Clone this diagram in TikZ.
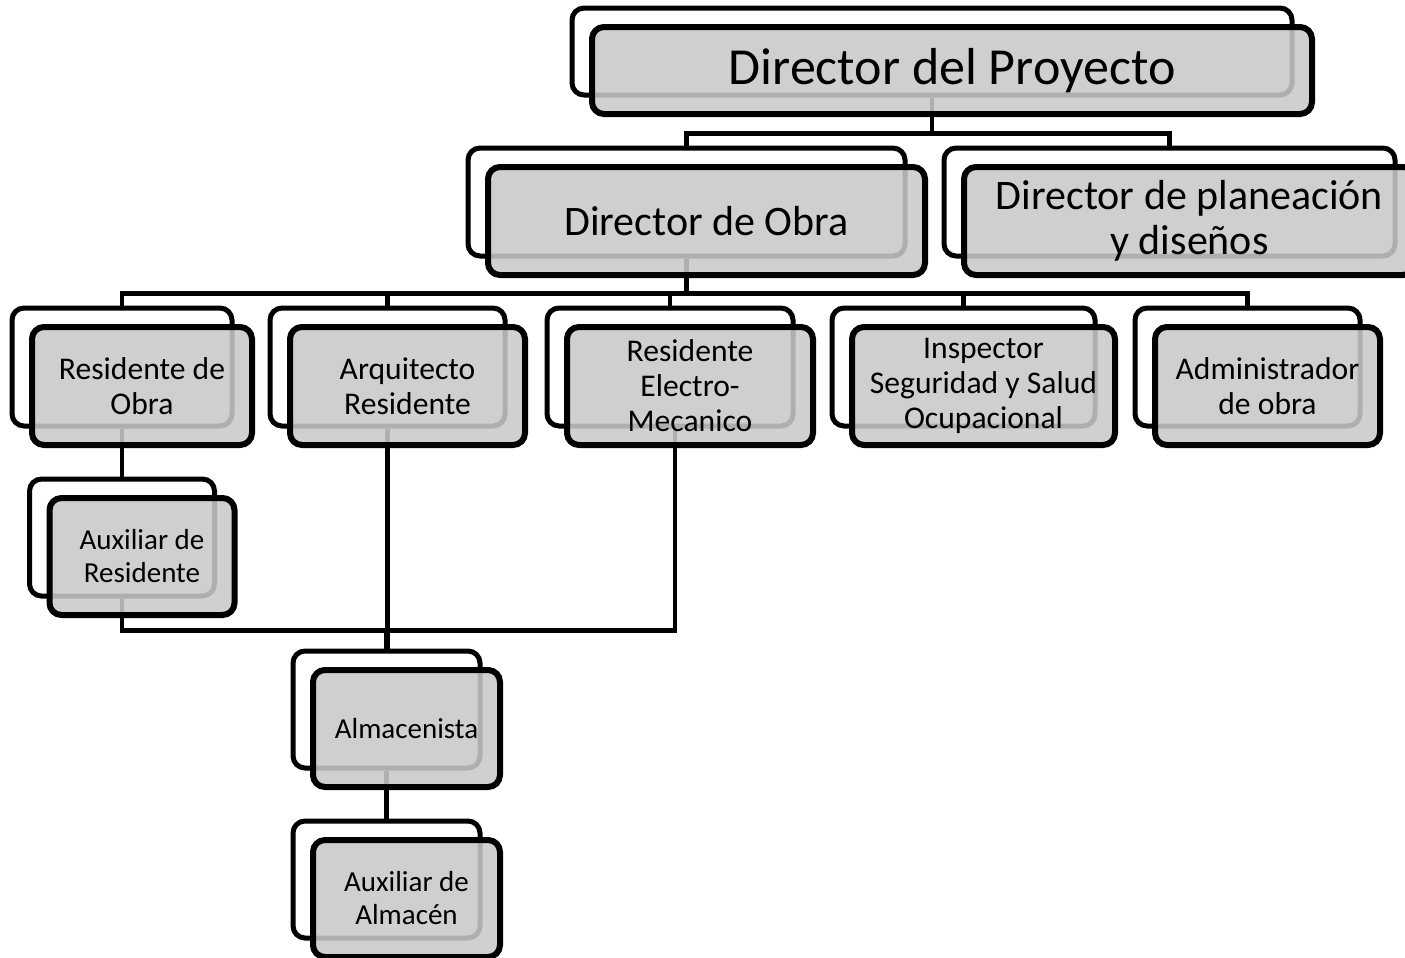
\documentclass[tikz,border=0pt]{standalone}
\usepackage{fontspec}
\setmainfont{Carlito}
\usepackage{tikz}
\pgfdeclarelayer{fondo}
\pgfsetlayers{fondo,main}

\begin{document}
\begin{tikzpicture}[x=0.5pt,y=-0.5pt,
  atras/.style={draw,line width=2.5pt,rounded corners=6pt,fill=white,inner sep=0pt},
  puesto/.style={draw,line width=3pt,rounded corners=6pt,fill=black!21,fill opacity=0.875,text opacity=1,align=center,inner sep=0pt},
  nivel1/.style={font=\fontsize{26}{30}\selectfont,minimum height=43.5pt},
  nivel2/.style={font=\fontsize{21}{22.5}\selectfont,minimum height=54pt},
  nivel3/.style={font=\fontsize{15.8}{17.5}\selectfont,minimum height=59pt},
  nivel4/.style={font=\fontsize{14.5}{16.5}\selectfont,minimum height=58.5pt},
  linea/.style={line width=2.2pt}]
\useasboundingbox (0,0) rectangle (1405,958);

	\node[atras,nivel1,minimum width=360pt] (dpA) at (932,51.5) {};
	\node[puesto,nivel1,minimum width=360pt] (dp) at (952,70.5) {Director del Proyecto};

	\node[atras,nivel2,minimum width=218.5pt] (doA) at (686.5,202) {};
	\node[puesto,nivel2,minimum width=218.5pt] (do) at (706.5,221) {Director de Obra};
	\node[atras,nivel2,minimum width=225.5pt] (dplA) at (1169.5,202) {};
	\node[puesto,nivel2,minimum width=225.5pt] (dpl) at (1189.5,221) {Director de planeación\\y diseños};

	\node[atras,nivel3,minimum width=110pt] (resA) at (122,367) {};
	\node[puesto,nivel3,minimum width=110pt] (res) at (142,386) {Residente de\\Obra};
	\node[atras,nivel3,minimum width=117.5pt] (arqA) at (387.5,367) {};
	\node[puesto,nivel3,minimum width=117.5pt] (arq) at (407.5,386) {Arquitecto\\Residente};
	\node[atras,nivel3,minimum width=123pt] (elecA) at (670,367) {};
	\node[puesto,nivel3,minimum width=123pt] (elec) at (690,386) {Residente\\Electro-\\Mecanico};
	\node[atras,nivel3,minimum width=131.5pt] (inspA) at (963.5,367) {};
	\node[puesto,nivel3,minimum width=131.5pt] (insp) at (983.5,386) {Inspector\\Seguridad y Salud\\Ocupacional};
	\node[atras,nivel3,minimum width=112.5pt] (admA) at (1247.5,367) {};
	\node[puesto,nivel3,minimum width=112.5pt] (adm) at (1267.5,386) {Administrador\\de obra};

	\node[atras,nivel4,minimum width=92.5pt] (auxresA) at (122,537.5) {};
	\node[puesto,nivel4,minimum width=92.5pt] (auxres) at (142,556.5) {Auxiliar de\\Residente};
	\node[atras,nivel4,minimum width=93.5pt] (almA) at (386.5,709.5) {};
	\node[puesto,nivel4,minimum width=93.5pt] (alm) at (406.5,728.5) {Almacenista};
	\node[atras,nivel4,minimum width=93.5pt] (auxalmA) at (386.5,879.5) {};
	\node[puesto,nivel4,minimum width=93.5pt] (auxalm) at (406.5,898.5) {Auxiliar de\\Almacén};

\begin{pgfonlayer}{fondo}
	\draw[linea] (dpA.south) -- ++(0,36) coordinate (b1) -| (doA.north);
	\draw[linea] (b1) -| (dplA.north);
	\draw[linea] (doA.south) -- ++(0,35) coordinate (b2) -| (resA.north);
	\foreach \n in {arqA,elecA,inspA,admA}
		\draw[linea] (b2) -| (\n.north);
	\draw[linea] (resA.south) -- (auxresA.north);
	\coordinate (b3) at ([yshift=9pt]almA.north);
	\draw[linea] (auxresA.south) |- (b3) -- (almA.north);
	\draw[linea] (arqA.south) -- (arqA.south |- almA.north);
	\draw[linea] ([xshift=2.5pt]elecA.south) |- (b3);
	\draw[linea] (almA.south) -- (auxalmA.north);
\end{pgfonlayer}
\end{tikzpicture}
\end{document}
